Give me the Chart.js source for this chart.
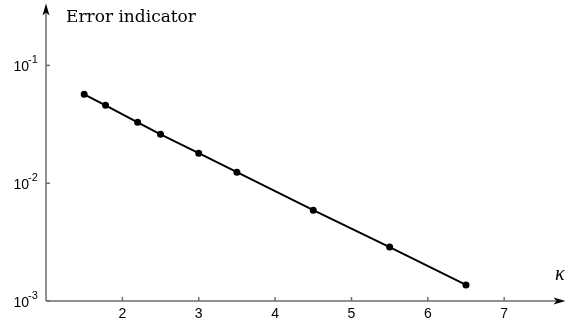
<!DOCTYPE html>
<html>
<head>
<meta charset="utf-8">
<script src="https://cdn.jsdelivr.net/npm/chart.js@4/dist/chart.umd.min.js"></script>
<style>
  html, body { margin: 0; padding: 0; background: #fff; }
  #wrap { position: relative; width: 569px; height: 325px; }
</style>
</head>
<body>
<div id="wrap"><canvas id="errChart"></canvas></div>
<script>
// kappa values and error indicator
const kappa = [1.5, 1.78, 2.2, 2.5, 3.0, 3.5, 4.5, 5.5, 6.5];
const errorValues = [0.0568, 0.0458, 0.0329, 0.0260, 0.0180, 0.0124, 0.0059, 0.00287, 0.00137];

const xTicks = [2, 3, 4, 5, 6, 7];
const yTicks = [0.001, 0.01, 0.1];
const yTickExp = ['-3', '-2', '-1'];

const AXIS_COLOR = '#6e6e6e';
const LABEL_FONT = '14px "Liberation Sans", Arial, sans-serif';
const SUP_FONT = '11px "Liberation Sans", Arial, sans-serif';

const axesPlugin = {
  id: 'axesPlugin',
  afterDraw(chart) {
    const { ctx, chartArea, scales } = chart;
    const x0 = chartArea.left, y0 = chartArea.bottom;
    ctx.save();
    ctx.strokeStyle = AXIS_COLOR;
    ctx.fillStyle = '#000';
    ctx.lineWidth = 1.5;

    // axis lines
    ctx.beginPath();
    ctx.moveTo(x0, y0);
    ctx.lineTo(chartArea.right - 4, y0);
    ctx.moveTo(x0, y0);
    ctx.lineTo(x0, chartArea.top + 6);
    ctx.stroke();

    // arrow heads
    ctx.beginPath();
    ctx.moveTo(x0, chartArea.top - 1);
    ctx.lineTo(x0 - 3.5, chartArea.top + 11);
    ctx.lineTo(x0, chartArea.top + 8);
    ctx.lineTo(x0 + 3.5, chartArea.top + 11);
    ctx.closePath();
    ctx.fill();
    ctx.beginPath();
    ctx.moveTo(chartArea.right + 1, y0);
    ctx.lineTo(chartArea.right - 11, y0 - 3.5);
    ctx.lineTo(chartArea.right - 8, y0);
    ctx.lineTo(chartArea.right - 11, y0 + 3.5);
    ctx.closePath();
    ctx.fill();

    // x ticks
    ctx.font = LABEL_FONT;
    ctx.textAlign = 'center';
    ctx.textBaseline = 'top';
    xTicks.forEach(v => {
      const px = scales.x.getPixelForValue(v);
      ctx.beginPath();
      ctx.moveTo(px, y0);
      ctx.lineTo(px, y0 - 4);
      ctx.stroke();
      ctx.fillText(String(v), px, y0 + 6);
    });

    // y ticks
    yTicks.forEach((v, i) => {
      const py = scales.y.getPixelForValue(v);
      ctx.beginPath();
      ctx.moveTo(x0, py);
      ctx.lineTo(x0 + 4, py);
      ctx.stroke();
      ctx.font = LABEL_FONT;
      ctx.textAlign = 'right';
      ctx.textBaseline = 'alphabetic';
      ctx.fillText('10', x0 - 17, py + 6);
      ctx.font = SUP_FONT;
      ctx.textAlign = 'left';
      ctx.fillText(yTickExp[i], x0 - 18, py - 2);
    });

    // axis titles
    ctx.font = '17px "DejaVu Serif", "Liberation Serif", serif';
    ctx.textAlign = 'left';
    ctx.textBaseline = 'alphabetic';
    ctx.fillText('Error indicator', 66, 22);
    ctx.font = 'italic 20px "Liberation Serif", serif';
    ctx.fillText('κ', 555, 280);
    ctx.restore();
  }
};

new Chart(document.getElementById('errChart').getContext('2d'), {
  type: 'scatter',
  data: {
    datasets: [{
      label: 'Error indicator',
      data: kappa.map((k, i) => ({ x: k, y: errorValues[i] })),
      borderColor: '#000',
      backgroundColor: '#000',
      borderWidth: 2,
      pointRadius: 2.5,
      pointHoverRadius: 2.5,
      showLine: true
    }]
  },
  options: {
    responsive: true,
    maintainAspectRatio: false,
    animation: false,
    layout: { padding: { left: 46, right: 0, top: 4, bottom: 24 } },
    plugins: { legend: { display: false }, tooltip: { enabled: false } },
    scales: {
      x: { type: 'linear', min: 1, max: 7.79, display: false },
      y: { type: 'logarithmic', min: 0.001, max: Math.pow(10, -0.483), display: false }
    }
  },
  plugins: [axesPlugin]
});
</script>
</body>
</html>
